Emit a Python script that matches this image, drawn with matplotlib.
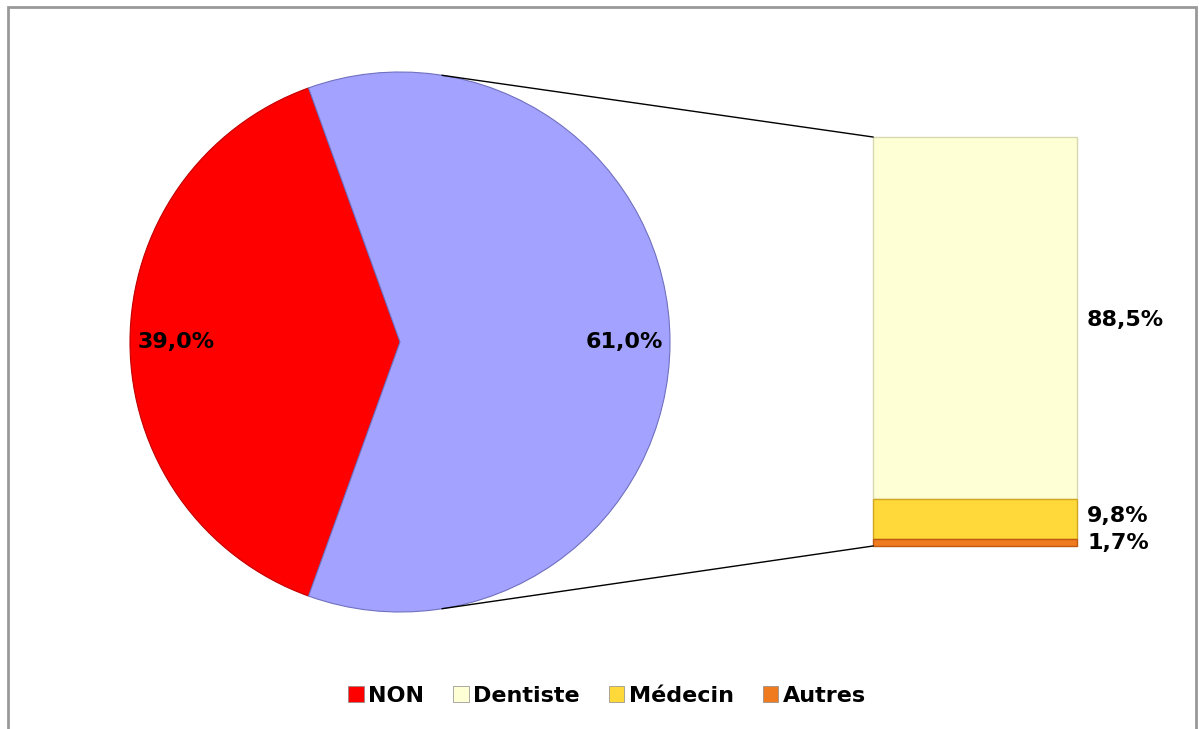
import numpy as np
import matplotlib
matplotlib.use("Agg")
import matplotlib.pyplot as plt
from matplotlib.patches import Rectangle

plt.rcParams['font.family'] = ['DejaVu Sans']

# Données
pie_labels = ['NON', 'OUI']
pie_values = [39.0, 61.0]
pie_colors = ['#FF0000', '#A3A3FF']

bar_labels = ['Dentiste', 'Médecin', 'Autres']
bar_values = [88.5, 9.8, 1.7]
bar_colors = ['#FFFFD6', '#FFD83A', '#F07A1E']

W, H = 1199, 729
fig = plt.figure(figsize=(W / 100, H / 100), dpi=100)
ax = fig.add_axes([0, 0, 1, 1])
ax.set_xlim(0, W)
ax.set_ylim(0, H)
ax.set_aspect('equal')
ax.axis('off')

# cadre gris
ax.add_patch(Rectangle((7.5, -10), 1188, H - 6.5 + 10, fill=False,
                       edgecolor='#999999', lw=2, zorder=0))

# camembert
cx, cy, r = 400, H - 342, 270
start = 180 - pie_values[0] / 100 * 360 / 2
wedges, texts, autotexts = ax.pie(
    pie_values, colors=pie_colors, center=(cx, cy), radius=r,
    startangle=start, counterclock=True,
    autopct=lambda p: f"{p:.1f}%".replace('.', ','), pctdistance=0.83,
    wedgeprops=dict(edgecolor='#7070C0', linewidth=0.8),
    textprops=dict(fontsize=16, fontweight='bold', color='black'))
wedges[0].set_edgecolor('#C00000')
ax.set_xlim(0, W)
ax.set_ylim(0, H)

# barre empilée
bx, bw = 975, 204
btop, bbot = H - 137, H - 546
scale = (btop - bbot) / sum(bar_values)
heights = [v * scale for v in bar_values]
bottoms = [bbot + sum(heights[i + 1:]) for i in range(len(heights))]
ax.bar([bx] * 3, heights, width=bw, bottom=bottoms, color=bar_colors,
       edgecolor=['#D8D8B0', '#D0A820', '#C05A10'], linewidth=1)

label_y = [H - 320, H - 516, H - 543]
for lab_y, v in zip(label_y, bar_values):
    ax.text(bx + bw / 2 + 10, lab_y, f"{v:.1f}%".replace('.', ','),
            fontsize=16, fontweight='bold', ha='left', va='center')

# lignes de liaison
a = np.deg2rad(81)
ax.plot([cx + r * np.cos(a), bx - bw / 2], [cy + r * np.sin(a), btop],
        color='black', lw=1)
ax.plot([cx + r * np.cos(a), bx - bw / 2], [cy - r * np.sin(a), bbot],
        color='black', lw=1)

# légende
handles = [Rectangle((0, 0), 1, 1, facecolor=c, edgecolor='#888888', lw=0.5)
           for c in [pie_colors[0]] + bar_colors]
ax.legend(handles, [pie_labels[0]] + bar_labels, loc='center',
          bbox_to_anchor=(607 / W, (H - 696) / H), ncol=4, frameon=False,
          prop=dict(size=16, weight='bold'), handlelength=0.7,
          handleheight=0.7, handletextpad=0.2, columnspacing=1.3)

fig.savefig('out.png', dpi=100, facecolor='white')
